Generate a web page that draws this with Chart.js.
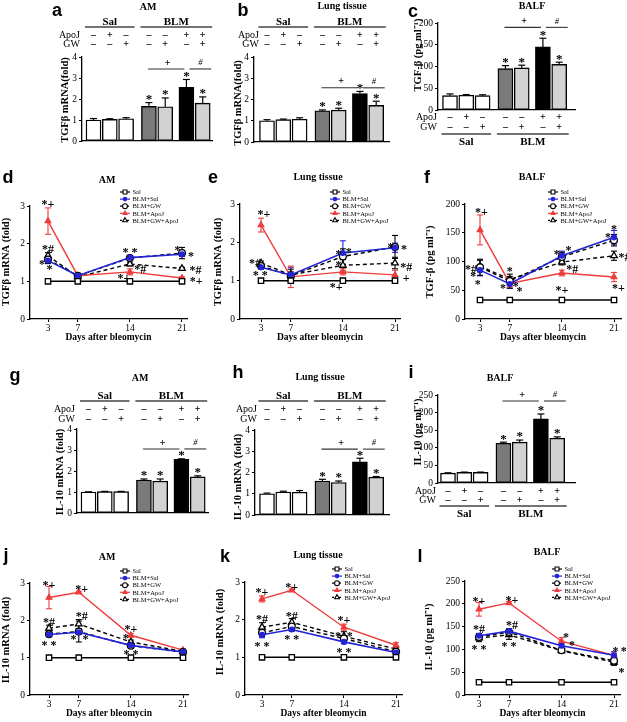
<!DOCTYPE html>
<html>
<head>
<meta charset="utf-8">
<title>ApoJ / GW - TGF-β and IL-10</title>
<script src="https://cdn.jsdelivr.net/npm/chart.js@4.4.1/dist/chart.umd.min.js"></script>
<style>
  body { margin: 0; background: #fff; }
  #page { position: relative; width: 627px; height: 722px; overflow: hidden; }
  #page canvas { position: absolute; left: 0; top: 0; }
</style>
</head>
<body>
<div id="page"></div>
<script>
// ---- bar panels (a, b, c, g, h, i): 3 saline groups then 4 bleomycin groups
const groupNames = ['Sal', 'BLM'];
const apoJRow = ['-', '+', '-', '-', '-', '+', '+'];
const gwRow = ['-', '-', '+', '-', '+', '-', '+'];
const barStars = ['', '', '', '*', '*', '*', '*'];

const tgfAmMean = [1.0, 1.03, 1.06, 1.65, 1.63, 2.55, 1.8];
const tgfAmErr = [0.07, 0.03, 0.05, 0.18, 0.42, 0.38, 0.3];
const tgfLungMean = [1.0, 1.05, 1.07, 1.47, 1.5, 2.28, 1.72];
const tgfLungErr = [0.05, 0.03, 0.07, 0.04, 0.09, 0.1, 0.2];
const tgfBalfMean = [33, 34, 33, 95, 97, 145, 105];
const tgfBalfErr = [4, 1.5, 2, 7, 6, 20, 5];
const il10AmMean = [1.0, 1.02, 1.02, 1.57, 1.52, 2.55, 1.72];
const il10AmErr = [0.01, 0.01, 0.01, 0.05, 0.1, 0.03, 0.05];
const il10LungMean = [1.0, 1.08, 1.07, 1.6, 1.53, 2.5, 1.78];
const il10LungErr = [0.03, 0.04, 0.08, 0.08, 0.07, 0.17, 0.03];
const il10BalfMean = [28, 30, 30, 113, 116, 182, 127];
const il10BalfErr = [1, 1, 1, 3, 6, 14, 4];

// ---- time course panels (d, e, f, j, k, l)
const days = [3, 7, 14, 21];
const seriesNames = ['Sal', 'BLM+Sal', 'BLM+GW', 'BLM+ApoJ', 'BLM+GW+ApoJ'];

const tgfAmTime = [[1, 1, 1, 1], [1.55, 1.15, 1.63, 1.72], [1.58, 1.15, 1.62, 1.75], [2.6, 1.15, 1.25, 1.09], [1.68, 1.12, 1.46, 1.34]];
const tgfAmTimeErr = [[0.05, 0.03, 0.02, 0.02], [0.08, 0.05, 0.05, 0.06], [0.1, 0.05, 0.05, 0.15], [0.35, 0.05, 0.08, 0.03], [0.08, 0.05, 0.05, 0.03]];
const tgfLungTime = [[1, 1, 1, 1], [1.35, 1.15, 1.72, 1.86], [1.38, 1.13, 1.63, 1.88], [2.45, 1.1, 1.23, 1.15], [1.46, 1.15, 1.4, 1.46]];
const tgfLungTimeErr = [[0.02, 0.02, 0.02, 0.02], [0.05, 0.2, 0.32, 0.12], [0.05, 0.1, 0.2, 0.3], [0.18, 0.28, 0.08, 0.12], [0.05, 0.15, 0.15, 0.15]];
const tgfBalfTime = [[33, 33, 33, 33], [85, 61, 110, 142], [90, 66, 108, 137], [155, 62, 80, 73], [92, 69, 99, 110]];
const tgfBalfTimeErr = [[2, 2, 2, 2], [10, 8, 8, 12], [14, 12, 8, 10], [26, 6, 5, 8], [10, 5, 5, 8]];
const il10AmTime = [[1, 1, 1, 1], [1.62, 1.68, 1.33, 1.15], [1.63, 1.7, 1.32, 1.15], [2.61, 2.75, 1.6, 1.2], [1.79, 1.9, 1.42, 1.17]];
const il10AmTimeErr = [[0.02, 0.02, 0.02, 0.02], [0.05, 0.05, 0.05, 0.03], [0.06, 0.28, 0.05, 0.03], [0.3, 0.03, 0.05, 0.03], [0.08, 0.12, 0.05, 0.03]];
const il10LungTime = [[1, 1, 1, 1], [1.6, 1.74, 1.41, 1.13], [1.65, 1.82, 1.5, 1.15], [2.55, 2.78, 1.8, 1.32], [1.8, 1.93, 1.56, 1.22]];
const il10LungTimeErr = [[0.02, 0.02, 0.02, 0.02], [0.08, 0.05, 0.05, 0.03], [0.1, 0.08, 0.08, 0.03], [0.08, 0.03, 0.08, 0.07], [0.12, 0.1, 0.12, 0.05]];
const il10BalfTime = [[28, 28, 28, 28], [130, 140, 108, 87], [127, 138, 98, 75], [188, 202, 118, 87], [125, 132, 97, 72]];
const il10BalfTimeErr = [[2, 2, 2, 2], [5, 5, 5, 8], [6, 6, 4, 10], [15, 3, 8, 5], [8, 10, 4, 5]];

// significance marks next to the time course points: [day, value, mark]
const tgfAmNotes = [[3, 3.1, '*+'], [3, 1.9, '*#'], [2.2, 1.5, '*'], [3.2, 1.37, '*'], [14, 1.83, '* *'], [15.4, 1.38, '*#'], [13.2, 1.14, '*+'], [20.4, 1.88, '*'], [22.2, 1.72, '*'], [22.8, 1.35, '*#'], [22.9, 1.06, '*+']];
const tgfLungNotes = [[3.4, 2.77, '*+'], [2.2, 1.5, '*#'], [2.9, 1.2, '* *'], [13.4, 1.75, '*'], [14.8, 1.78, '*'], [13.4, 1.44, '*'], [13.1, 0.88, '*+'], [20.4, 1.93, '*'], [22.2, 1.86, '*'], [22.5, 1.41, '*#'], [22.5, 1.1, '+']];
const tgfBalfNotes = [[3.2, 188, '*+'], [1.8, 90, '*#'], [2.1, 77, '*'], [2.7, 64, '*'], [7, 87, '*'], [6.1, 57, '*'], [7.8, 61, '*'], [8.3, 52, '*'], [13.3, 115, '*'], [14.9, 122, '*'], [15.4, 90, '*#'], [14, 54, '*+'], [21, 160, '*'], [20.2, 146, '*'], [22.4, 111, '*#'], [21.6, 56, '*+']];
const il10AmNotes = [[3, 3.0, '*+'], [3, 2.0, '*#'], [3, 1.39, '* *'], [7.4, 2.88, '*+'], [7.4, 2.16, '*#'], [6.3, 1.55, '*'], [7.9, 1.55, '*'], [14, 1.81, '*+'], [13.3, 1.57, '*'], [14, 1.15, '* *']];
const il10LungNotes = [[3, 2.78, '*+'], [7, 2.92, '*+'], [3, 2.07, '*#'], [7, 2.15, '*#'], [3, 1.35, '* *'], [7, 1.54, '* *'], [14, 2.04, '*+'], [13.2, 1.62, '*'], [14.8, 1.6, '*'], [14, 1.19, '* *']];
const il10BalfNotes = [[3, 210, '*+'], [7.4, 212, '*+'], [3, 149, '*#'], [7.4, 156, '*#'], [3, 105, '* *'], [7, 112, '* *'], [14.6, 131, '*'], [15.4, 114, '*'], [21.2, 101, '*'], [22.3, 101, '*'], [22, 55, '*']];

const SERIF = '"Liberation Serif", "Times New Roman", serif';
const SANS = '"Liberation Sans", Arial, sans-serif';
const W = 627, H = 722;
const page = document.getElementById('page');

// bar slots on a linear x axis (units of one bar pitch), gaps between the groups
const barPos = [0, 1, 2, 3.4, 4.4, 5.7, 6.7];
const barFill = ['#fff', '#fff', '#fff', '#7a7a7a', '#d2d2d2', '#000', '#d2d2d2'];

const seriesStyle = [
  { color: '#000', dash: [], point: 'rect', r: 3.8, fill: '#fff', w: 1.5 },
  { color: '#2323d8', dash: [], point: 'circle', r: 2.4, fill: '#2323d8', w: 1.6 },
  { color: '#000', dash: [4, 3], point: 'circle', r: 3.4, fill: '#fff', w: 1.4 },
  { color: '#ee3c3c', dash: [], point: 'triangle', r: 3.2, fill: '#ee3c3c', w: 1.4 },
  { color: '#000', dash: [4, 3], point: 'triangle', r: 3.8, fill: '#fff', w: 1.4 },
];

Chart.defaults.font.family = SERIF;

function newCanvas() {
  const c = document.createElement('canvas');
  c.width = W; c.height = H;
  page.appendChild(c);
  return c;
}

function text(ctx, s, x, y, font, align, base, color) {
  ctx.save();
  ctx.font = font;
  ctx.textAlign = align || 'center';
  ctx.textBaseline = base || 'middle';
  ctx.fillStyle = color || '#000';
  ctx.fillText(s, x, y);
  ctx.restore();
}

function vtext(ctx, s, x, y, font) {
  ctx.save();
  ctx.translate(x, y);
  ctx.rotate(-Math.PI / 2);
  text(ctx, s, 0, 0, font);
  ctx.restore();
}

function seg(ctx, x1, y1, x2, y2, color, w, dash) {
  ctx.save();
  ctx.beginPath();
  ctx.strokeStyle = color || '#000';
  ctx.lineWidth = w || 1;
  ctx.setLineDash(dash || []);
  ctx.moveTo(x1, y1);
  ctx.lineTo(x2, y2);
  ctx.stroke();
  ctx.restore();
}

function frame(ctx, p) {
  text(ctx, p.letter, p.lx, p.ly, 'bold 18px ' + SANS, 'center', 'alphabetic');
  text(ctx, p.title, p.tx, p.ty, 'bold 10px ' + SERIF);
  vtext(ctx, p.ylab, p.ylx, p.yly, 'bold 10.5px ' + SERIF);
}

function axisY(p, width) {
  return {
    min: 0, max: p.ymax,
    ticks: { stepSize: p.step, color: '#000', font: { family: SERIF, size: 9.5 }, padding: 2 },
    grid: { drawOnChartArea: false, tickLength: 3, color: '#000' },
    border: { color: '#000', width: 1.3 },
    afterFit(s) { s.width = width; }
  };
}

// ---------- bar panels
function decoBars(chart, p) {
  const ctx = chart.ctx, xs = chart.scales.x, ys = chart.scales.y;
  const px = barPos.map(v => xs.getPixelForValue(v));
  const hw = p.barW / 2;
  frame(ctx, p);

  p.mean.forEach((m, i) => {
    const y0 = ys.getPixelForValue(m), y1 = ys.getPixelForValue(m + p.err[i]);
    seg(ctx, px[i], y0, px[i], y1, '#000', 1.2);
    seg(ctx, px[i] - 3.5, y1, px[i] + 3.5, y1, '#000', 1.2);
    if (barStars[i]) text(ctx, barStars[i], px[i], y1 - 3, 'bold 13px ' + SERIF);
  });

  // + (ApoJ vs BLM) and # (GW+ApoJ vs ApoJ)
  const sy = ys.getPixelForValue(p.sig);
  seg(ctx, px[3] - 1, sy, px[5] - 2, sy, '#333', 1.1);
  text(ctx, '+', (px[3] + px[5]) / 2, sy - 6, 'bold 10px ' + SERIF);
  seg(ctx, px[5] + 3, sy, px[6] + hw + 1, sy, '#333', 1.1);
  text(ctx, '#', (px[5] + px[6] + hw) / 2 + 2, sy - 6, 'italic 8.5px ' + SERIF);

  // treatment table
  const tf = 'bold 10px ' + SERIF;
  apoJRow.forEach((s, i) => text(ctx, s === '+' ? '+' : '\u2013', px[i], p.rowA, tf));
  gwRow.forEach((s, i) => text(ctx, s === '+' ? '+' : '\u2013', px[i], p.rowG, tf));
  text(ctx, 'ApoJ', p.labelRight, p.rowA, '10px ' + SERIF, 'right');
  text(ctx, 'GW', p.labelRight, p.rowG, '10px ' + SERIF, 'right');
  const s0 = px[0] - hw - 1, s1 = px[2] + hw + 1, b0 = px[3] - hw - 1, b1 = px[6] + hw + 2;
  seg(ctx, s0, p.lineY, s1, p.lineY, '#444', 1.3);
  seg(ctx, b0, p.lineY, b1, p.lineY, '#444', 1.3);
  text(ctx, groupNames[0], (s0 + s1) / 2, p.grpY, 'bold 11px ' + SERIF, 'center', 'alphabetic');
  text(ctx, groupNames[1], (b0 + b1) / 2, p.grpY, 'bold 11px ' + SERIF, 'center', 'alphabetic');
}

function barChart(p) {
  const cv = newCanvas();
  const yw = 30;
  new Chart(cv, {
    type: 'bar',
    data: {
      datasets: [{
        data: barPos.map((x, i) => ({ x, y: p.mean[i] })),
        backgroundColor: barFill,
        borderColor: '#000',
        borderWidth: 1.4,
        borderSkipped: false,
        barThickness: p.barW
      }]
    },
    options: {
      responsive: false, animation: false, devicePixelRatio: 1,
      layout: { padding: { left: p.left - yw, right: W - p.right, top: p.top, bottom: H - p.bottom } },
      plugins: { legend: { display: false }, tooltip: { enabled: false } },
      scales: {
        x: {
          type: 'linear', offset: false, min: (p.left - p.x0) / p.unit, max: (p.right - p.x0) / p.unit,
          ticks: { display: false }, grid: { display: false, offset: false },
          border: { color: '#000', width: 1.3 },
          afterFit(s) { s.height = 0; }
        },
        y: axisY(p, yw)
      }
    },
    plugins: [{ id: 'deco', afterDraw(c) { decoBars(c, p); } }]
  });
}

// ---------- time course panels
function errorBars(c, p) {
  const ctx = c.ctx, xs = c.scales.x, ys = c.scales.y;
  p.series.forEach((vals, k) => {
    const col = seriesStyle[k].color;
    vals.forEach((v, i) => {
      const e = p.err[k][i];
      const x = xs.getPixelForValue(days[i]);
      const y0 = ys.getPixelForValue(v - e), y1 = ys.getPixelForValue(v + e);
      seg(ctx, x, y0, x, y1, col, 1.1);
      seg(ctx, x - 3, y0, x + 3, y0, col, 1.1);
      seg(ctx, x - 3, y1, x + 3, y1, col, 1.1);
    });
  });
}

function legendBox(ctx, x, y) {
  seriesNames.forEach((name, k) => {
    const st = seriesStyle[k], yy = y + k * 7.1;
    seg(ctx, x, yy, x + 10, yy, st.color, 1.2, st.dash.length ? [2, 1.5] : []);
    ctx.save();
    ctx.fillStyle = st.fill;
    ctx.strokeStyle = st.color;
    ctx.lineWidth = 1.1;
    Chart.helpers.drawPoint(ctx, { pointStyle: st.point, radius: st.r * 0.72, borderWidth: 1.1, rotation: 0 }, x + 5, yy);
    ctx.restore();
    text(ctx, name, x + 12.5, yy + 0.5, '6.5px ' + SERIF, 'left');
  });
}

function decoLines(c, p) {
  const ctx = c.ctx, xs = c.scales.x, ys = c.scales.y;
  frame(ctx, p);
  legendBox(ctx, p.legX, p.legY);
  text(ctx, 'Days after bleomycin', (p.left + p.right) / 2, p.xlabY, 'bold 9.5px ' + SERIF);
  p.notes.forEach(([d, v, s]) => text(ctx, s, xs.getPixelForValue(d), ys.getPixelForValue(v) + 2.5, 'bold 12px ' + SERIF));
}

function lineChart(p) {
  const cv = newCanvas();
  const unit = (p.d21 - p.d3) / 18;
  const yw = 24, xh = 16;
  new Chart(cv, {
    type: 'line',
    data: {
      datasets: p.series.map((vals, k) => {
        const st = seriesStyle[k];
        return {
          label: seriesNames[k],
          data: days.map((d, i) => ({ x: d, y: vals[i] })),
          borderColor: st.color, borderWidth: st.w, borderDash: st.dash,
          pointStyle: st.point, pointRadius: st.r,
          pointBackgroundColor: st.fill, pointBorderColor: st.color, pointBorderWidth: 1.3,
          tension: 0, fill: false
        };
      })
    },
    options: {
      responsive: false, animation: false, devicePixelRatio: 1,
      layout: { padding: { left: p.left - yw, right: W - p.right, top: p.top, bottom: H - p.bottom - xh } },
      plugins: { legend: { display: false }, tooltip: { enabled: false } },
      scales: {
        x: {
          type: 'linear',
          min: 3 - (p.d3 - p.left) / unit, max: 21 + (p.right - p.d21) / unit,
          afterBuildTicks(s) { s.ticks = days.map(v => ({ value: v })); },
          ticks: { color: '#000', font: { family: SERIF, size: 9.5 }, padding: 1, maxRotation: 0, autoSkip: false },
          grid: { drawOnChartArea: false, tickLength: 3, color: '#000' },
          border: { color: '#000', width: 1.3 },
          afterFit(s) { s.height = xh; }
        },
        y: axisY(p, yw)
      }
    },
    plugins: [{ id: 'deco', beforeDatasetsDraw(c) { errorBars(c, p); }, afterDraw(c) { decoLines(c, p); } }]
  });
}

// ---------- panels
const tgfLab = 'TGF\u03b2 mRNA(fold)';
const tgfLab2 = 'TGF\u03b2 mRNA (fold)';
const tgfPg = 'TGF-\u03b2 (pg ml\u207b\u00b9)';
const ilLab = 'IL-10 mRNA (fold)';
const ilPg = 'IL-10 (pg ml\u207b\u00b9)';

const above = { rowA: 35, rowG: 44, lineY: 27, grpY: 25 };
const aboveLow = { rowA: 409, rowG: 419, lineY: 401, grpY: 399 };

barChart(Object.assign({ letter: 'a', lx: 57, ly: 16, title: 'AM', tx: 148, ty: 7, ylab: tgfLab, ylx: 65, yly: 100,
  mean: tgfAmMean, err: tgfAmErr, ymax: 4, step: 1, sig: 3.43,
  left: 82, right: 212, top: 57, bottom: 141, x0: 93.5, unit: 16.3, barW: 15, labelRight: 80 }, above));
barChart(Object.assign({ letter: 'b', lx: 243, ly: 16, title: 'Lung tissue', tx: 342, ty: 6, ylab: tgfLab, ylx: 238, yly: 103,
  mean: tgfLungMean, err: tgfLungErr, ymax: 4, step: 1, sig: 2.55,
  left: 254, right: 389, top: 57, bottom: 142, x0: 267, unit: 16.3, barW: 15, labelRight: 259 }, above));
barChart({ letter: 'c', lx: 413, ly: 17, title: 'BALF', tx: 532, ty: 6, ylab: tgfPg, ylx: 418, yly: 55,
  mean: tgfBalfMean, err: tgfBalfErr, ymax: 200, step: 50, sig: 190,
  left: 438, right: 575, top: 23, bottom: 110, x0: 450, unit: 16.3, barW: 15, labelRight: 437,
  rowA: 117, rowG: 127, lineY: 134, grpY: 145 });

barChart(Object.assign({ letter: 'g', lx: 15, ly: 381, title: 'AM', tx: 140, ty: 378, ylab: ilLab, ylx: 60, yly: 472,
  mean: il10AmMean, err: il10AmErr, ymax: 4, step: 1, sig: 3.05,
  left: 77, right: 208, top: 429, bottom: 513, x0: 88.5, unit: 16.3, barW: 15, labelRight: 75 }, aboveLow));
barChart(Object.assign({ letter: 'h', lx: 238, ly: 378, title: 'Lung tissue', tx: 320, ty: 377, ylab: ilLab, ylx: 238, yly: 477,
  mean: il10LungMean, err: il10LungErr, ymax: 4, step: 1, sig: 3.1,
  left: 255, right: 389, top: 430, bottom: 515, x0: 267, unit: 16.3, barW: 15, labelRight: 257 }, aboveLow));
barChart({ letter: 'i', lx: 411, ly: 378, title: 'BALF', tx: 500, ty: 378, ylab: ilPg, ylx: 418, yly: 432,
  mean: il10BalfMean, err: il10BalfErr, ymax: 250, step: 50, sig: 233,
  left: 438, right: 575, top: 395, bottom: 483, x0: 448, unit: 16.3, barW: 15, labelRight: 436,
  rowA: 491, rowG: 500, lineY: 506, grpY: 517 });

lineChart({ letter: 'd', lx: 8, ly: 183, title: 'AM', tx: 107, ty: 180, ylab: tgfLab2, ylx: 6, yly: 262,
  series: tgfAmTime, err: tgfAmTimeErr, notes: tgfAmNotes, ymax: 3, step: 1,
  left: 30, right: 187, top: 206, bottom: 319, d3: 48, d21: 182, legX: 120, legY: 192, xlabY: 338 });
lineChart({ letter: 'e', lx: 213, ly: 183, title: 'Lung tissue', tx: 318, ty: 177, ylab: tgfLab2, ylx: 218, yly: 262,
  series: tgfLungTime, err: tgfLungTimeErr, notes: tgfLungNotes, ymax: 3, step: 1,
  left: 240, right: 400, top: 204, bottom: 319, d3: 261, d21: 395, legX: 330, legY: 192, xlabY: 338 });
lineChart({ letter: 'f', lx: 427, ly: 183, title: 'BALF', tx: 532, ty: 177, ylab: tgfPg, ylx: 430, yly: 262,
  series: tgfBalfTime, err: tgfBalfTimeErr, notes: tgfBalfNotes, ymax: 200, step: 50,
  left: 465, right: 621, top: 204, bottom: 319, d3: 480, d21: 614, legX: 548, legY: 192, xlabY: 338 });

lineChart({ letter: 'j', lx: 6, ly: 561, title: 'AM', tx: 107, ty: 557, ylab: ilLab, ylx: 6, yly: 640,
  series: il10AmTime, err: il10AmTimeErr, notes: il10AmNotes, ymax: 3, step: 1,
  left: 30, right: 188, top: 583, bottom: 695, d3: 49, d21: 183, legX: 120, legY: 571, xlabY: 714 });
lineChart({ letter: 'k', lx: 225, ly: 562, title: 'Lung tissue', tx: 318, ty: 555, ylab: ilLab, ylx: 220, yly: 632,
  series: il10LungTime, err: il10LungTimeErr, notes: il10LungNotes, ymax: 3, step: 1,
  left: 245, right: 402, top: 582, bottom: 695, d3: 262, d21: 396, legX: 332, legY: 569, xlabY: 714 });
lineChart({ letter: 'l', lx: 420, ly: 562, title: 'BALF', tx: 547, ty: 552, ylab: ilPg, ylx: 429, yly: 637,
  series: il10BalfTime, err: il10BalfTimeErr, notes: il10BalfNotes, ymax: 250, step: 50,
  left: 465, right: 620, top: 581, bottom: 695, d3: 479, d21: 614, legX: 552, legY: 569, xlabY: 714 });
</script>
</body>
</html>
